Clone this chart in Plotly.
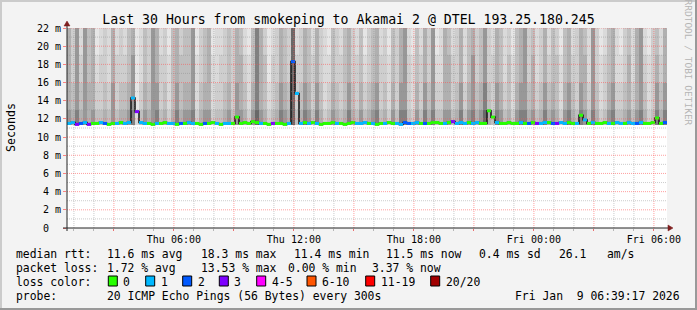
import plotly.graph_objects as go
from datetime import datetime, timedelta

# ---------------- data ----------------
TITLE = "Last 30 Hours from smokeping to Akamai 2 @ DTEL 193.25.180.245"
END = datetime(2026, 1, 9, 6, 39, 17)
START = END - timedelta(hours=30)
N_COLS = 150  # 12-minute columns

# smoke: grey level per column (0 light .. 9 dark), one string per height band
SMOKE_Y_EDGES = [11.3, 13.0, 16.0, 19.0, 22.0]
SMOKE_11_13 = "".join(["768676755657566783576785646867", "784677455675776479764568769568",
                       "758645765686575678564758854758", "685577568578679658756478867568",
                       "676478658758645785567578645868"])
SMOKE_13_16 = "".join(["657576644547455672465774535756", "673566344564765368653457659457",
                       "647534654575464567453647743647", "574466457467568547645367756457",
                       "565367547647534674456467534757"])
SMOKE_16_19 = "".join(["647475634436444572354764435655", "573456334454664358652446549446",
                       "546433544564453456443546743546", "473366446357457446535356746346",
                       "455356446637434563346367434646"])
SMOKE_19_22 = "".join(["647375623436343562354763425645", "572456233454653258642346549346",
                       "536432543564352456342546732536", "472365346356457436534256745346",
                       "354256346537423563245367324536"])

# median rtt (ms) per column
MEDIAN = [11.5, 11.6, 11.4, 11.5, 11.6, 11.4, 11.5, 11.5, 11.6, 11.5,
          11.4, 11.5, 11.5, 11.6, 11.5, 11.6, 14.3, 12.8, 11.6, 11.5,
          11.5, 11.4, 11.5, 11.5, 11.6, 11.5, 11.5, 11.4, 11.5, 11.5,
          11.6, 11.5, 11.5, 11.4, 11.5, 11.5, 11.6, 11.5, 11.4, 11.5,
          11.5, 11.5, 12.2, 11.5, 11.6, 11.5, 11.7, 11.6, 11.5, 11.5,
          11.4, 11.5, 11.5, 11.5, 11.4, 11.5, 18.3, 14.8, 11.5, 11.6,
          11.5, 11.6, 11.5, 11.4, 11.5, 11.5, 11.6, 11.5, 11.5, 11.4,
          11.5, 11.6, 11.5, 11.5, 11.6, 11.5, 11.5, 11.4, 11.5, 11.5,
          11.6, 11.5, 11.5, 11.4, 11.6, 11.5, 11.5, 11.6, 11.5, 11.5,
          11.5, 11.6, 11.6, 11.5, 11.5, 11.6, 11.7, 11.5, 11.6, 11.5,
          11.6, 11.5, 11.6, 11.5, 11.5, 12.9, 12.2, 11.6, 11.5, 11.5,
          11.6, 11.5, 11.5, 11.6, 11.5, 11.5, 11.6, 11.5, 11.5, 11.6,
          11.6, 11.5, 11.5, 11.6, 11.5, 11.6, 11.5, 11.5, 12.4, 11.9,
          11.5, 11.6, 11.5, 11.5, 11.6, 11.5, 11.5, 11.6, 11.5, 11.5,
          11.6, 11.5, 11.5, 11.6, 11.5, 11.5, 11.6, 12.1, 11.5, 11.6]
# lost pings per column (index into LOSS_COLORS)
LOSS = "".join(["113213001200101113110010011020", "110020010110000000100300012110",
                "101000010000111010010011221102", "000010311101100001000001020311",
                "023110010101000101101121000002"])

LOSS_LABELS = ["0", "1", "2", "3", "4-5", "6-10", "11-19", "20/20"]
LOSS_COLORS = ["#26ff00", "#00b8ff", "#0059ff", "#7e00ff", "#ff00ff", "#ff5500", "#ff0000", "#a10000"]

RTT_STATS = ["11.6 ms avg", "18.3 ms max", "11.4 ms min", "11.5 ms now", "0.4 ms sd", "26.1", "am/s"]
LOSS_STATS = ["1.72 % avg", "13.53 % max", "0.00 % min", "3.37 % now"]
PROBE = "20 ICMP Echo Pings (56 Bytes) every 300s"
STAMP = "Fri Jan\u00a0\u00a09 06:39:17 2026"

Y_TICKS = list(range(0, 23, 2))
Y_TICKTEXT = ["0\u00a0\u00a0"] + [f"{v} m" for v in Y_TICKS[1:]]

# ---------------- layout helpers ----------------
W, H = 697, 310
L, T, PW, PH = 67, 28, 600, 200
FONT = "DejaVu Sans Mono"


def px(x):
    return (x - L) / PW


def py(y):
    return 1 - (y - T) / PH


col_dt = (END - START) / N_COLS
x_edges = [START + i * col_dt for i in range(N_COLS + 1)]


def pad(s):
    return (s + s[-1] * N_COLS)[:N_COLS]


rows = [SMOKE_11_13, SMOKE_13_16, SMOKE_16_19, SMOKE_19_22]
z = [[int(c) for c in pad(r)] for r in rows]

fig = go.Figure()
fig.add_trace(go.Heatmap(
    x=x_edges, y=SMOKE_Y_EDGES, z=z, zmin=0, zmax=9,
    colorscale=[[0, "rgb(248,248,248)"], [2 / 9, "rgb(230,230,230)"], [4 / 9, "rgb(206,206,206)"],
                [6 / 9, "rgb(176,176,176)"], [1, "rgb(104,104,104)"]],
    showscale=False, hoverinfo="skip", zsmooth=False))

# median connector (dark)
fig.add_trace(go.Scatter(x=x_edges, y=MEDIAN + [MEDIAN[-1]], mode="lines",
                         line=dict(color="#1c1c1c", width=1.6, shape="hv"),
                         hoverinfo="skip", showlegend=False))

loss = pad(LOSS)
for k, col in enumerate(LOSS_COLORS):
    xs, ys = [], []
    for i in range(N_COLS):
        if int(loss[i]) == k:
            xs += [x_edges[i], x_edges[i + 1], None]
            ys += [MEDIAN[i], MEDIAN[i], None]
    if xs:
        fig.add_trace(go.Scatter(x=xs, y=ys, mode="lines", line=dict(color=col, width=3),
                                 hoverinfo="skip", showlegend=False))

shapes = []
# vertical grid lines each hour (red every 3 hours)
t = START.replace(minute=0, second=0) + timedelta(hours=1)
while t < END:
    major = t.hour % 3 == 0
    shapes.append(dict(type="line", xref="x", yref="paper", x0=t, x1=t, y0=0, y1=1, layer="above",
                       line=dict(color="rgba(255,80,80,0.55)" if major else "rgba(140,140,140,0.45)",
                                 width=1, dash="1px,1px")))
    t += timedelta(hours=1)
# horizontal grid lines each ms (red every 2 ms)
for v in range(1, 23):
    major = v % 2 == 0
    shapes.append(dict(type="line", xref="paper", yref="y", x0=0, x1=1, y0=v, y1=v, layer="above",
                       line=dict(color="rgba(255,80,80,0.55)" if major else "rgba(140,140,140,0.45)",
                                 width=1, dash="1px,1px")))
# axes lines + arrows
shapes.append(dict(type="line", xref="paper", yref="paper", x0=px(67), x1=px(67), y0=py(231), y1=py(24),
                   layer="above", line=dict(color="#222", width=1)))
shapes.append(dict(type="line", xref="paper", yref="paper", x0=px(63), x1=px(669), y0=py(228), y1=py(228),
                   layer="above", line=dict(color="#222", width=1)))
shapes.append(dict(type="path", xref="paper", yref="paper", layer="above",
                   path=f"M {px(64)},{py(26)} L {px(70)},{py(26)} L {px(67)},{py(21)} Z",
                   fillcolor="#7f1f1f", line=dict(color="#7f1f1f", width=0.5)))
shapes.append(dict(type="path", xref="paper", yref="paper", layer="above",
                   path=f"M {px(668)},{py(225)} L {px(668)},{py(231)} L {px(673)},{py(228)} Z",
                   fillcolor="#7f1f1f", line=dict(color="#7f1f1f", width=0.5)))
# image frame
shapes += [
    dict(type="rect", xref="paper", yref="paper", x0=px(0), x1=px(W), y0=py(0), y1=py(2),
         fillcolor="#cbcbcb", line=dict(width=0), layer="above"),
    dict(type="rect", xref="paper", yref="paper", x0=px(0), x1=px(2), y0=py(0), y1=py(H),
         fillcolor="#cbcbcb", line=dict(width=0), layer="above"),
    dict(type="rect", xref="paper", yref="paper", x0=px(0), x1=px(W), y0=py(H - 2), y1=py(H),
         fillcolor="#999999", line=dict(width=0), layer="above"),
    dict(type="rect", xref="paper", yref="paper", x0=px(W - 2), x1=px(W), y0=py(0), y1=py(H),
         fillcolor="#999999", line=dict(width=0), layer="above"),
]

ann = []


def text(x, y, s, size=11.4, anchor="left", color="#000", angle=0):
    ann.append(dict(x=px(x), y=py(y), xref="paper", yref="paper", text=s, showarrow=False,
                    xanchor=anchor, yanchor="middle", textangle=angle, borderpad=0, borderwidth=0,
                    font=dict(family=FONT, size=size, color=color)))


# legend rows
text(16, 254, "median rtt:")
for x, s in zip([107, 200.7, 294, 386, 479.3, 558.7, 607.3], RTT_STATS):
    text(x, 254, s)
text(16, 268, "packet loss:")
for x, s in zip([107, 200.7, 287.5, 372], LOSS_STATS):
    text(x, 268, s)
text(16, 282, "loss color:")
box_x = [108.3, 145.7, 182.7, 219.3, 256.7, 307, 365.7, 430.7]
for x, lab, col in zip(box_x, LOSS_LABELS, LOSS_COLORS):
    shapes.append(dict(type="rect", xref="paper", yref="paper", x0=px(x), x1=px(x + 9),
                       y0=py(276), y1=py(286), fillcolor=col, line=dict(color="#000", width=1), layer="above"))
    text(x + 15, 282, lab)
text(16, 296, "probe:")
text(107, 296, PROBE)
text(680, 296, STAMP, anchor="right")
text(11, 128, "Seconds", size=11.6, anchor="center", angle=-90)
text(688.5, 62, "RRDTOOL / TOBI OETIKER", size=9.5, anchor="center", color="#b4b4b4", angle=90)

tickvals, ticktext = [], []
t = START.replace(minute=0, second=0) + timedelta(hours=1)
while t < END:
    if t.hour % 3 == 0:
        tickvals.append(t)
        ticktext.append(t.strftime("%a %H:%M") if t.hour % 6 == 0 else "")
    t += timedelta(hours=1)

fig.update_layout(
    width=W, height=H, margin=dict(l=L, r=W - L - PW, t=T, b=H - T - PH, pad=0),
    paper_bgcolor="#f3f3f3", plot_bgcolor="#ffffff", showlegend=False,
    title=dict(text=TITLE, x=0.5, xref="container", xanchor="center", y=1 - 19.5 / H, yref="container",
               yanchor="middle", font=dict(family=FONT, size=13.2, color="#000")),
    xaxis=dict(type="date", range=[START, END], showgrid=False, zeroline=False, showline=False,
               tickmode="array", tickvals=tickvals, ticktext=ticktext, ticks="outside", ticklen=2,
               tickcolor="rgba(255,80,80,0.7)", tickfont=dict(family=FONT, size=10, color="#000"),
               minor=dict(ticks="outside", ticklen=2, dtick=3600000, tick0="2026-01-08 01:00:00",
                          tickcolor="rgba(140,140,140,0.6)", showgrid=False)),
    yaxis=dict(range=[0, 22], showgrid=False, zeroline=False, showline=False, tickmode="array",
               tickvals=Y_TICKS, ticktext=Y_TICKTEXT, ticks="outside", ticklen=3,
               tickcolor="rgba(255,80,80,0.7)", tickfont=dict(family=FONT, size=10, color="#000")),
    shapes=shapes, annotations=ann,
)

fig.write_html("out.html")
